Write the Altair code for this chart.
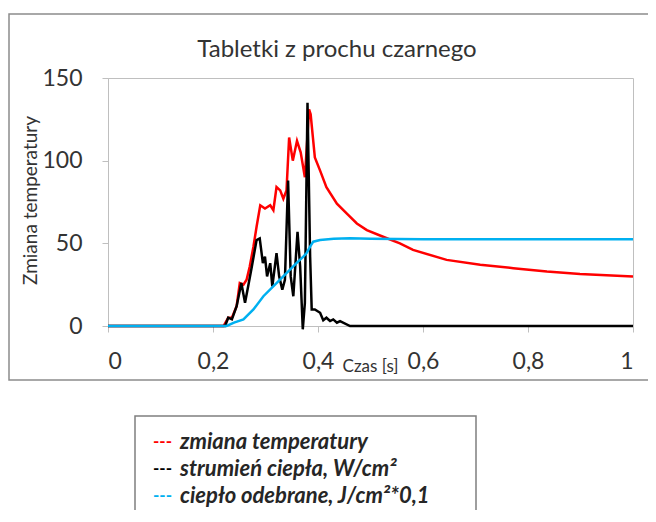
import altair as alt
import pandas as pd

# ---- data ----
red_x = [0, 0.22, 0.229, 0.236, 0.245, 0.251, 0.258, 0.264, 0.27, 0.277, 0.283, 0.29, 0.299,
         0.309, 0.315, 0.321, 0.328, 0.334, 0.340, 0.345, 0.352, 0.36, 0.367, 0.375, 0.379,
         0.383, 0.386, 0.39, 0.394, 0.404, 0.416, 0.436, 0.455, 0.474, 0.493, 0.524, 0.556,
         0.581, 0.645, 0.709, 0.772, 0.836, 0.899, 1.0]
red_y = [0, 0, 5, 5, 12, 26, 25, 28, 36, 48, 60, 73, 71,
         73, 70, 84, 82, 77, 82, 114, 100, 112, 105, 90, 110,
         131, 128, 115, 102, 94, 84, 74, 68, 62, 58, 54, 50,
         46, 40, 37, 35, 33, 31.5, 30]

black_x = [0, 0.22, 0.223, 0.229, 0.236, 0.245, 0.254, 0.261, 0.267, 0.274, 0.283, 0.289,
           0.295, 0.299, 0.303, 0.309, 0.313, 0.321, 0.326, 0.332, 0.337, 0.343, 0.348,
           0.353, 0.361, 0.366, 0.371, 0.375, 0.380, 0.385, 0.388, 0.394, 0.404, 0.410,
           0.416, 0.423, 0.429, 0.436, 0.442, 0.461, 1.0]
black_y = [0, 0, 0, 5, 4, 12, 26, 14, 24, 36, 52, 53,
           38, 42, 30, 38, 24, 44, 30, 22, 28, 88, 30,
           18, 57, 36, -2, 14, 135, 42, 10, 10, 8, 3.5,
           5, 3, 4, 2, 3, 0, 0]

blue_x = [0, 0.22, 0.226, 0.24, 0.258, 0.277, 0.296, 0.321, 0.34, 0.359, 0.372, 0.378,
          0.385, 0.391, 0.404, 0.43, 0.461, 0.5, 0.6, 1.0]
blue_y = [0, 0, 0, 2, 4, 10, 18, 26, 32, 38, 42, 44,
          48, 51, 52, 52.7, 53, 52.8, 52.5, 52.5]

series_names = ["zmiana temperatury", "strumień ciepła, W/cm²", "ciepło odebrane, J/cm²*0,1"]
series_colors = ["#ff0000", "#000000", "#00b0f0"]

title_text = "Tabletki z prochu czarnego"
x_title = "Czas [s]"
y_title = "Zmiana temperatury"
x_ticks = [0, 0.2, 0.4, 0.6, 0.8, 1.0]
y_ticks = [0, 50, 100, 150]

frames = []
for i, (xs, ys) in enumerate([(red_x, red_y), (black_x, black_y), (blue_x, blue_y)]):
    frames.append(pd.DataFrame({"t": xs, "v": ys, "s": series_names[i], "o": i}))
df = pd.concat(frames, ignore_index=True)

FONT = "Lato"
one = pd.DataFrame({"a": [0]})

lines = alt.Chart(df).mark_line(strokeWidth=2.5, clip=False).encode(
    x=alt.X("t:Q", scale=alt.Scale(domain=[0, 1], nice=False),
            axis=alt.Axis(values=x_ticks, title=x_title, grid=False,
                          labelExpr="replace(format(datum.value, '.1~f'), '.', ',')",
                          labelFont=FONT, labelFontSize=23, labelPadding=18, labelColor="#333333",
                          titleFont=FONT, titleFontSize=17, titleFontWeight="normal", titleColor="#333333",
                          titleX=262, titleY=40, titleBaseline="middle",
                          domainColor="#bfbfbf", tickColor="#bfbfbf", tickSize=6)),
    y=alt.Y("v:Q", scale=alt.Scale(domain=[0, 150], nice=False),
            axis=alt.Axis(values=y_ticks, title=y_title, grid=False,
                          labelFont=FONT, labelFontSize=23, labelPadding=20, labelColor="#333333",
                          titleFont=FONT, titleFontSize=19, titleFontWeight="normal", titleColor="#333333",
                          titleX=-78, titleY=122, titleAngle=-90, titleBaseline="middle",
                          domainColor="#bfbfbf", tickColor="#bfbfbf", tickSize=6)),
    color=alt.Color("s:N", scale=alt.Scale(domain=series_names, range=series_colors), legend=None),
    order=alt.Order("o:Q"),
    detail="s:N",
)

def txt(s, x, y, size, color="#333333", align="left", style="normal", weight="normal"):
    return alt.Chart(one).mark_text(
        text=s, fontSize=size, font=FONT, color=color, align=align, baseline="middle",
        fontStyle=style, fontWeight=weight, clip=False
    ).encode(x=alt.value(x), y=alt.value(y))

# outer chart border
outer = alt.Chart(one).mark_rect(filled=False, stroke="#8c8c8c", strokeWidth=1.5, clip=False).encode(
    x=alt.value(-99), x2=alt.value(542), y=alt.value(-64), y2=alt.value(302))
# legend box
legbox = alt.Chart(one).mark_rect(filled=False, stroke="#7f7f7f", strokeWidth=1.5, clip=False).encode(
    x=alt.value(27), x2=alt.value(368), y=alt.value(338), y2=alt.value(470))

layers = [outer, legbox, lines, txt(title_text, 229, -28, 24, align="center")]
leg_y = [364, 391, 418]
for i in range(3):
    layers.append(txt("---", 45, leg_y[i], 17, color=series_colors[i], weight="bold"))
    layers.append(txt(series_names[i], 72, leg_y[i], 22, color="#262626", style="italic", weight="bold"))

chart = alt.layer(*layers).properties(
    width=525, height=248,
    autosize=alt.AutoSizeParams(type="none"),
    padding={"left": 100, "top": 70, "right": 15, "bottom": 184},
).configure_view(stroke="#bfbfbf", strokeWidth=1)

chart.save("out.html", embed_options={"renderer": "svg", "actions": False})
